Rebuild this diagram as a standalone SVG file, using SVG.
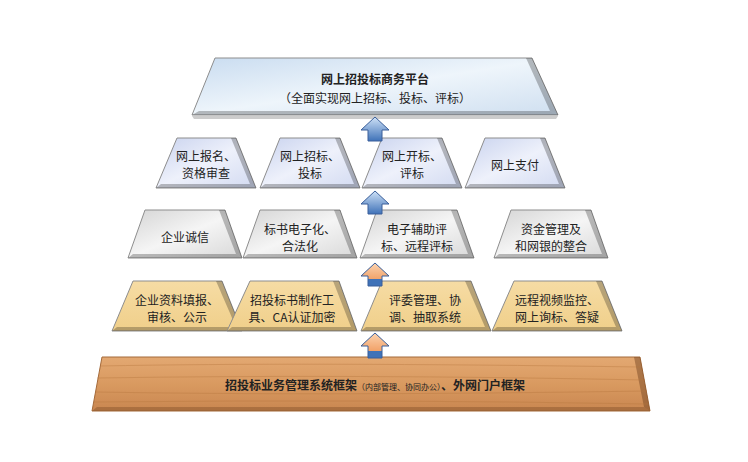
<svg xmlns="http://www.w3.org/2000/svg" width="748" height="462" viewBox="0 0 748 462">
<defs>
<linearGradient id="gBlue" x1="0" y1="0" x2="1" y2="1"><stop offset="0" stop-color="#c9dcf0"/><stop offset="0.5" stop-color="#eef5fb"/><stop offset="1" stop-color="#cfdff0"/></linearGradient>
<linearGradient id="gPale" x1="0" y1="0" x2="1" y2="1"><stop offset="0" stop-color="#c8d2ee"/><stop offset="0.5" stop-color="#eef1fb"/><stop offset="1" stop-color="#d2daf1"/></linearGradient>
<linearGradient id="gGray" x1="0" y1="0" x2="1" y2="1"><stop offset="0" stop-color="#d4d4d4"/><stop offset="0.5" stop-color="#f5f5f5"/><stop offset="1" stop-color="#d8d8d8"/></linearGradient>
<linearGradient id="gTan" x1="0" y1="0" x2="0" y2="1"><stop offset="0" stop-color="#f6dca4"/><stop offset="1" stop-color="#f0cf8a"/></linearGradient>
<linearGradient id="gWood" x1="0" y1="0" x2="0" y2="1"><stop offset="0" stop-color="#e3a872"/><stop offset="0.5" stop-color="#d99a60"/><stop offset="1" stop-color="#c98650"/></linearGradient>
<linearGradient id="gArrB" x1="0" y1="0" x2="0" y2="1"><stop offset="0" stop-color="#cfe2f7"/><stop offset="1" stop-color="#3f72b8"/></linearGradient>
<linearGradient id="gArrO" x1="0" y1="0" x2="0" y2="1"><stop offset="0" stop-color="#fbd3b0"/><stop offset="0.7" stop-color="#f2a36a"/><stop offset="0.71" stop-color="#3f72b8"/><stop offset="1" stop-color="#3f72b8"/></linearGradient>
</defs>
<style>
.t{font-family:"Noto Sans CJK SC","Noto Sans",sans-serif;font-size:12px;fill:#222;text-anchor:middle}
.b{stroke:#8d8d8d;stroke-width:1}
.bev{fill:#000;opacity:0.25}
.shadow{fill:#999;opacity:0.5}
</style>
<rect width="748" height="462" fill="#fff"/>
<g id="top">
<polygon points="192,116 558,116 556,119 194,119" class="shadow"/>
<polygon points="215,58 532,58 558,115 192,115" fill="url(#gBlue)" class="b"/>
<polygon points="526,58 532,58 558,115 550,111" class="bev"/>
<polygon points="192,115 558,115 550,111 199,111" class="bev"/>
<text x="375" y="84" class="t" font-size="13" font-weight="bold">网上招投标商务平台</text>
<text x="375" y="103" class="t" font-size="11">（全面实现网上招标、投标、评标）</text>
</g>
<g id="row2">
<g id="b21"><polygon points="177,138 236,138 256,188 156,188" fill="url(#gPale)" class="b"/><polygon points="231,138 236,138 256,188 250,184" class="bev"/><polygon points="156,188 256,188 250,184 161,184" class="bev"/><text x="206" y="161" class="t">网上报名、</text><text x="206" y="178" class="t">资格审查</text></g>
<g id="b22"><polygon points="280,138 340,138 360,188 260,188" fill="url(#gPale)" class="b"/><polygon points="335,138 340,138 360,188 354,184" class="bev"/><polygon points="260,188 360,188 354,184 265,184" class="bev"/><text x="310" y="161" class="t">网上招标、</text><text x="310" y="178" class="t">投标</text></g>
<g id="b23"><polygon points="382,138 442,138 462,188 362,188" fill="url(#gPale)" class="b"/><polygon points="437,138 442,138 462,188 456,184" class="bev"/><polygon points="362,188 462,188 456,184 367,184" class="bev"/><text x="412" y="161" class="t">网上开标、</text><text x="412" y="178" class="t">评标</text></g>
<g id="b24"><polygon points="485,138 545,138 565,188 465,188" fill="url(#gPale)" class="b"/><polygon points="540,138 545,138 565,188 559,184" class="bev"/><polygon points="465,188 565,188 559,184 470,184" class="bev"/><text x="515" y="170" class="t">网上支付</text></g>
</g>
<g id="row3">
<g id="b31"><polygon points="145,210 225,210 242,258 128,258" fill="url(#gGray)" class="b"/><polygon points="219,210 225,210 242,258 236,254" class="bev"/><polygon points="128,258 242,258 236,254 133,254" class="bev"/><text x="185" y="242" class="t">企业诚信</text></g>
<g id="b32"><polygon points="260,210 340,210 357,258 243,258" fill="url(#gGray)" class="b"/><polygon points="334,210 340,210 357,258 351,254" class="bev"/><polygon points="243,258 357,258 351,254 248,254" class="bev"/><text x="300" y="234" class="t">标书电子化、</text><text x="300" y="251" class="t">合法化</text></g>
<g id="b33"><polygon points="377,210 457,210 474,258 360,258" fill="url(#gGray)" class="b"/><polygon points="451,210 457,210 474,258 468,254" class="bev"/><polygon points="360,258 474,258 468,254 365,254" class="bev"/><text x="417" y="234" class="t">电子辅助评</text><text x="417" y="251" class="t">标、远程评标</text></g>
<g id="b34"><polygon points="511,210 591,210 608,258 494,258" fill="url(#gGray)" class="b"/><polygon points="585,210 591,210 608,258 602,254" class="bev"/><polygon points="494,258 608,258 602,254 499,254" class="bev"/><text x="551" y="234" class="t">资金管理及</text><text x="551" y="251" class="t">和网银的整合</text></g>
</g>
<g id="row4">
<g id="b41"><polygon points="133,281 222,281 242,331 112,331" fill="url(#gTan)" class="b"/><polygon points="216,281 222,281 242,331 236,327" class="bev"/><polygon points="112,331 242,331 236,327 117,327" class="bev"/><text x="177" y="305" class="t">企业资料填报、</text><text x="177" y="322" class="t">审核、公示</text></g>
<g id="b42"><polygon points="250,281 339,281 357,331 227,331" fill="url(#gTan)" class="b"/><polygon points="333,281 339,281 357,331 351,327" class="bev"/><polygon points="227,331 357,331 351,327 232,327" class="bev"/><text x="292" y="305" class="t" font-size="11">招投标书制作工</text><text x="292" y="322" class="t" font-size="11">具、CA认证加密</text></g>
<g id="b43"><polygon points="382,281 471,281 491,331 361,331" fill="url(#gTan)" class="b"/><polygon points="465,281 471,281 491,331 485,327" class="bev"/><polygon points="361,331 491,331 485,327 366,327" class="bev"/><text x="425" y="305" class="t">评委管理、协</text><text x="425" y="322" class="t">调、抽取系统</text></g>
<g id="b44"><polygon points="514,281 602,281 622,331 492,331" fill="url(#gTan)" class="b"/><polygon points="596,281 602,281 622,331 616,327" class="bev"/><polygon points="492,331 622,331 616,327 497,327" class="bev"/><text x="557" y="305" class="t" font-size="11">远程视频监控、</text><text x="557" y="322" class="t" font-size="11">网上询标、答疑</text></g>
</g>
<g id="base">
<polygon points="102,357 640,357 650,411 92,411" fill="url(#gWood)" stroke="#a46a3a"/>
<polygon points="634,357 640,357 650,411 644,407" fill="#7a4a25" opacity="0.5"/>
<polygon points="92,411 650,411 644,407 97,407" fill="#7a4a25" opacity="0.4"/>
<g stroke="#b8773f" stroke-width="0.8" opacity="0.5" fill="none">
<path d="M100,366 Q300,362 640,367"/><path d="M97,378 Q350,374 645,380"/><path d="M95,392 Q330,396 647,391"/><path d="M94,402 Q380,399 648,404"/>
</g>
<text x="375" y="390" class="t" font-size="12" font-weight="bold" fill="#2a2a4a">招投标业务管理系统框架<tspan font-size="8" font-weight="normal">（内部管理、协同办公）</tspan>、外网门户框架</text>
</g>
<g id="connectors">
<polygon points="375,117 389,130 382,130 382,141 368,141 368,130 361,130" fill="url(#gArrB)" stroke="#3a5f9a"/>
<polygon points="375,191 389,204 382,204 382,214 368,214 368,204 361,204" fill="url(#gArrB)" stroke="#3a5f9a"/>
<polygon points="375,263 389,276 382,276 382,286 368,286 368,276 361,276" fill="url(#gArrO)" stroke="#3a5f9a"/>
<polygon points="375,333 389,346 382,346 382,358 368,358 368,346 361,346" fill="url(#gArrO)" stroke="#3a5f9a"/>
</g>
</svg>
